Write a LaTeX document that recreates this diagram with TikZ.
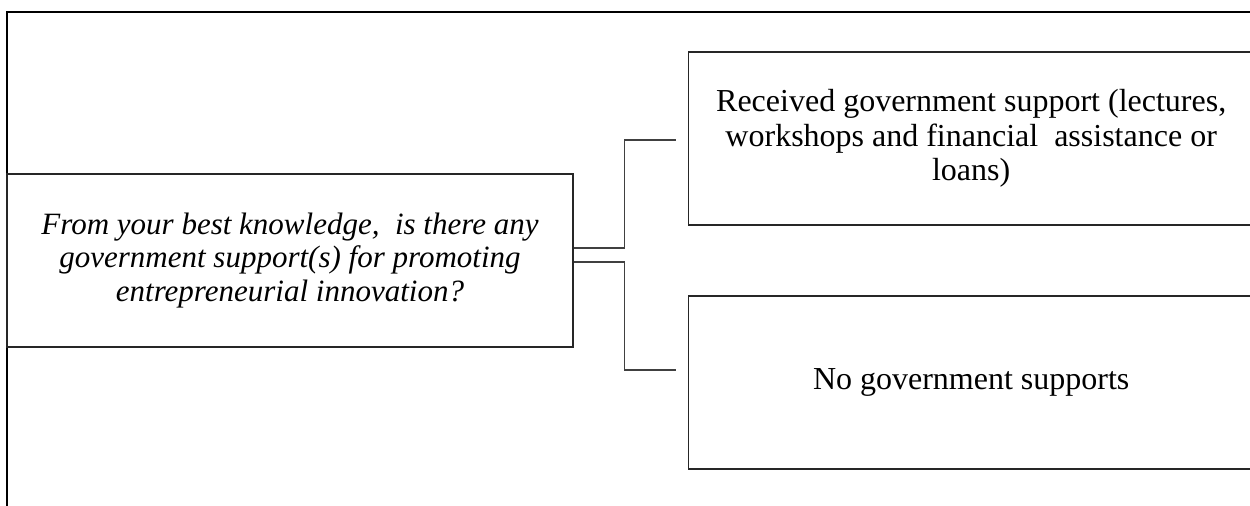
\documentclass[tikz,border=0pt]{standalone}
\usepackage{fontspec}
\setmainfont{Liberation Serif}
\usetikzlibrary{calc, positioning}

\begin{document}
\begin{tikzpicture}[
    x=0.5pt, y=-0.5pt,
    box/.style={draw=black!85, line width=0.6pt, align=center, minimum width=283pt, minimum height=86.5pt, inner sep=0pt},
    ask/.style={box, font=\fontsize{15.5}{16.6}\selectfont\itshape},
    ans/.style={box, font=\fontsize{16}{17.3}\selectfont},
    link/.style={draw=black!75, line width=0.6pt},
    frame/.style={draw=black, line width=0.7pt}
]
\useasboundingbox (0,0) rectangle (1250,505);
\clip (0,0) rectangle (1250,505);

% outer frame (top and left only)
\coordinate (fr) at (7,12);
\draw[frame] (1260,12) -- (fr) -- (7,515);

\node[ask] (q) at (290,260.5) {From your best knowledge, \ is there any\\
government support(s) for promoting\\
entrepreneurial innovation?};

\node[ans, right=57pt of q, yshift=61pt] (yes) {Received government support (lectures,\\
workshops and financial \ assistance or\\
loans)};

\node[ans, right=57pt of q, yshift=-61pt] (no) {No government supports};

\foreach \t/\a/\b in {yes/-12.5/1.5, no/1.5/-12.5}
  \draw[link] ($(q.east)+(0,\a)$) -- ++(51,0) |- ($(\t.west)+(-12,\b)$);

\end{tikzpicture}
\end{document}
